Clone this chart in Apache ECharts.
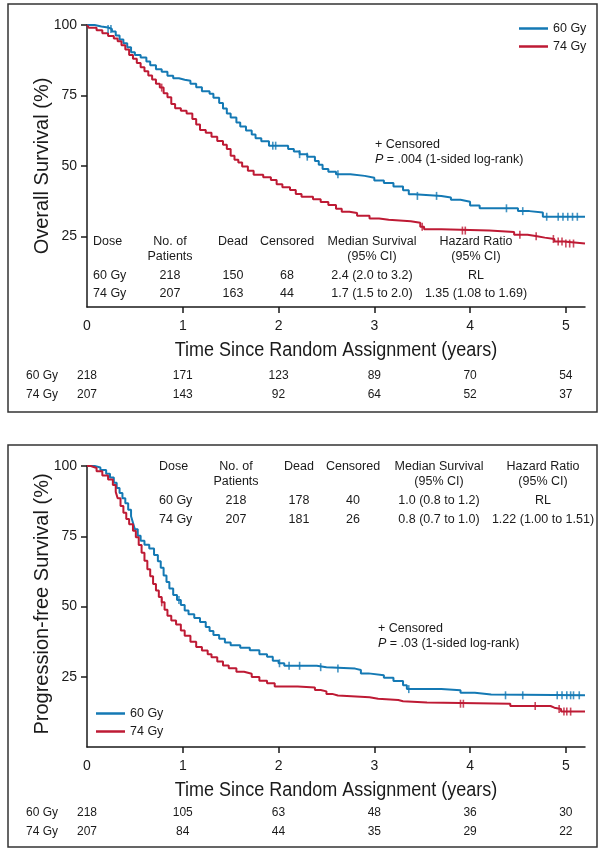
<!DOCTYPE html>
<html><head><meta charset="utf-8">
<script src="https://cdn.jsdelivr.net/npm/echarts@6/dist/echarts.min.js"></script>
<style>html,body{margin:0;padding:0;background:#fff}#c{width:605px;height:854px}</style>
</head><body><div id="c"></div>
<script>
// ---------- DATA ----------
const xTicks = [0, 1, 2, 3, 4, 5];
const yTicks = [25, 50, 75, 100];
const groups = ['60 Gy', '74 Gy'];

// Overall survival, 60 Gy (time in years, survival %)
const os60T = [0,0.08,0.15,0.22,0.26,0.3,0.34,0.38,0.42,0.46,0.5,0.56,0.62,0.66,0.72,0.78,0.84,0.9,0.96,1.02,1.08,1.14,1.2,1.28,1.32,1.38,1.42,1.46,1.5,1.56,1.6,1.66,1.72,1.76,1.82,1.9,2.1,2.16,2.22,2.3,2.38,2.42,2.46,2.52,2.6,2.75,2.9,3.0,3.1,3.2,3.3,3.36,3.42,3.7,3.8,3.9,4.0,4.1,4.5,4.62,4.76,5.2];
const os60S = [100,99.5,99.1,98.6,97.7,96.3,94.9,93.5,92.1,90.3,89.4,88.5,87.1,85.7,84.3,83.4,82.0,81.1,80.6,80.2,79.2,77.9,76.5,75.6,74.2,72.3,70.4,68.6,67.2,65.4,64.0,62.6,61.2,59.8,58.8,57.2,56.0,55.1,54.2,53.3,51.8,50.4,48.9,48.0,47.1,46.5,45.8,44.9,44.0,42.7,41.4,40.0,39.4,38.8,38.0,37.3,36.0,35.0,34.0,33.5,32.0,32.0];
// Overall survival, 74 Gy
const os74T = [0,0.02,0.1,0.16,0.22,0.28,0.32,0.36,0.4,0.44,0.48,0.52,0.56,0.6,0.64,0.68,0.72,0.76,0.8,0.84,0.88,0.92,0.98,1.04,1.1,1.14,1.18,1.24,1.3,1.36,1.42,1.46,1.5,1.54,1.58,1.62,1.68,1.74,1.84,1.92,1.98,2.04,2.12,2.18,2.24,2.36,2.44,2.52,2.6,2.66,2.74,2.82,2.95,3.05,3.15,3.38,3.48,3.52,3.7,4.2,4.46,4.6,4.7,4.78,4.88,4.98,5.2];
const os74S = [100,99.0,98.1,97.1,96.1,95.2,94.2,92.8,91.3,89.4,88.0,86.5,85.0,83.6,82.1,80.7,79.2,77.8,75.8,74.4,72.0,70.5,69.6,68.6,66.7,64.7,62.8,61.8,60.4,58.9,57.5,56.0,53.6,52.2,51.2,49.8,48.3,46.9,46.0,45.0,43.5,42.5,41.5,40.1,39.1,38.2,37.2,36.2,34.8,33.8,33.3,32.4,31.4,30.9,30.4,29.9,28.5,27.6,27.1,26.6,25.6,25.1,24.6,24.1,23.2,22.5,22.5];
const os60Cens = [0.22,0.25,1.94,1.97,2.22,2.3,2.62,3.45,3.65,4.38,4.55,4.8,4.92,4.97,5.02,5.07,5.12];
const os74Cens = [0.78,3.5,3.92,3.95,4.52,4.69,4.87,4.92,4.96,5.0,5.04,5.08];

// Progression-free survival, 60 Gy
const pfs60T = [0,0.08,0.14,0.2,0.24,0.28,0.31,0.34,0.37,0.4,0.43,0.46,0.48,0.5,0.53,0.56,0.6,0.65,0.7,0.74,0.77,0.8,0.83,0.86,0.9,0.94,0.98,1.02,1.06,1.12,1.18,1.24,1.28,1.32,1.38,1.44,1.5,1.6,1.7,1.8,1.88,1.94,2.0,2.06,2.4,2.5,2.8,2.86,2.94,3.1,3.2,3.3,3.34,3.7,3.9,4.05,4.22,5.2];
const pfs60S = [100,99.5,98.6,97.2,95.9,94.0,92.2,90.4,88.5,86.7,84.4,82.1,79.8,77.5,75.2,73.4,72.0,70.6,68.3,66.1,63.8,61.0,58.7,56.4,54.1,52.3,50.5,48.6,47.2,45.9,44.5,42.7,41.3,39.9,38.5,37.2,36.2,35.3,34.4,33.0,32.1,30.7,29.8,28.9,28.4,27.9,27.4,26.2,25.5,24.6,23.5,22.0,20.6,20.2,19.3,18.7,18.4,18.4];
// Progression-free survival, 74 Gy
const pfs74T = [0,0.04,0.1,0.16,0.22,0.27,0.3,0.32,0.35,0.38,0.41,0.44,0.48,0.51,0.54,0.57,0.6,0.63,0.66,0.69,0.72,0.75,0.78,0.81,0.84,0.88,0.93,0.98,1.02,1.08,1.14,1.2,1.26,1.3,1.36,1.42,1.48,1.56,1.64,1.72,1.8,1.88,1.96,2.2,2.38,2.44,2.5,2.56,2.62,2.95,3.04,3.25,3.3,3.55,4.42,4.84,4.88,4.95,5.2];
const pfs74S = [100,99.3,98.1,96.6,95.2,93.2,90.8,88.5,85.8,83.4,81.1,79.3,77.0,74.6,71.9,69.1,66.3,63.3,60.8,58.0,55.7,53.4,51.5,48.8,46.7,45.0,43.6,41.5,39.6,37.5,35.6,34.3,33.0,31.9,30.4,29.0,28.0,26.8,26.1,24.9,23.6,22.7,21.5,21.2,20.3,19.8,18.9,18.3,17.7,17.2,16.7,16.3,15.8,15.4,14.6,14.0,13.5,12.6,12.6];
const pfs60Cens = [0.96,2.01,2.11,2.22,2.44,2.62,3.36,4.37,4.55,4.91,4.96,5.01,5.05,5.08,5.14];
const pfs74Cens = [0.78,3.9,3.93,4.68,4.93,4.98,5.01,5.05];

// Numbers at risk
const osRisk60 = [218,171,123,89,70,54];
const osRisk74 = [207,143,92,64,52,37];
const pfsRisk60 = [218,105,63,48,36,30];
const pfsRisk74 = [207,84,44,35,29,22];

// Summary tables
const tableHead1 = ['Dose','No. of','Dead','Censored','Median Survival','Hazard Ratio'];
const tableHead2 = ['','Patients','','','(95% CI)','(95% CI)'];
const osRow60 = ['60 Gy','218','150','68','2.4 (2.0 to 3.2)','RL'];
const osRow74 = ['74 Gy','207','163','44','1.7 (1.5 to 2.0)','1.35 (1.08 to 1.69)'];
const pfsRow60 = ['60 Gy','218','178','40','1.0 (0.8 to 1.2)','RL'];
const pfsRow74 = ['74 Gy','207','181','26','0.8 (0.7 to 1.0)','1.22 (1.00 to 1.51)'];

const osPval = '.004 (1-sided log-rank)';
const pfsPval = '.03 (1-sided log-rank)';
const xTitle = 'Time Since Random Assignment (years)';
const osTitle = 'Overall Survival (%)';
const pfsTitle = 'Progression-free Survival (%)';

// ---------- STYLE ----------
const BLUE = '#1479b4', RED = '#be1a34', INK = '#1a1a1a';
const FF = '"Liberation Sans", Arial, Helvetica, sans-serif';
const f = (s) => s + 'px ' + FF;

function pairs(T, S) { return T.map((t, i) => [t, S[i]]); }
function survAt(T, S, t) { let v = S[0]; for (let i = 0; i < T.length; i++) { if (T[i] <= t) v = S[i]; } return v; }
function cens(T, S, C) { return C.map(t => [t, survAt(T, S, t)]); }

const chart = echarts.init(document.getElementById('c'), null, { renderer: 'canvas' });

function xAx(gi) {
  return {
    type: 'value', gridIndex: gi, min: 0, max: 5.2,
    axisLine: { show: true, onZero: false, lineStyle: { color: INK, width: 1.5 } },
    axisTick: { show: true, length: 6, lineStyle: { color: INK, width: 1.5 }, customValues: xTicks.slice(1) },
    axisLabel: { customValues: xTicks, color: INK, fontFamily: FF, fontSize: 14, margin: 12 },
    splitLine: { show: false }
  };
}
function yAx(gi) {
  return {
    type: 'value', gridIndex: gi, min: 0, max: 100, interval: 25,
    axisLine: { show: true, onZero: false, lineStyle: { color: INK, width: 1.5 } },
    axisTick: { show: true, length: 6, lineStyle: { color: INK, width: 1.5 }, customValues: yTicks },
    axisLabel: { customValues: yTicks, color: INK, fontFamily: FF, fontSize: 14, margin: 10 },
    splitLine: { show: false }
  };
}
function lineS(name, data, color, gi) {
  return { name, type: 'line', step: 'end', xAxisIndex: gi, yAxisIndex: gi, data, showSymbol: false,
    lineStyle: { color, width: 2 }, itemStyle: { color }, animation: false, z: 3 };
}
function censS(name, data, color, gi) {
  return { name, type: 'scatter', xAxisIndex: gi, yAxisIndex: gi, data, symbol: 'rect', symbolSize: [1.6, 8],
    itemStyle: { color }, animation: false, z: 4 };
}

const legendText = { fontFamily: FF, fontSize: 12.5, color: INK };
const option = {
  animation: false,
  grid: [
    { left: 87, top: 25, width: 498, height: 282 },
    { left: 87, top: 466, width: 498, height: 281 }
  ],
  xAxis: [xAx(0), xAx(1)],
  yAxis: [yAx(0), yAx(1)],
  legend: [
    { data: groups, orient: 'vertical', left: 514, top: 17, itemWidth: 29, itemHeight: 2.5, itemGap: 5, icon: 'rect',
      textStyle: legendText, selectedMode: false },
    { data: groups, orient: 'vertical', left: 91, top: 702, itemWidth: 29, itemHeight: 2.5, itemGap: 5, icon: 'rect',
      textStyle: legendText, selectedMode: false }
  ],
  series: [
    lineS(groups[0], pairs(os60T, os60S), BLUE, 0),
    lineS(groups[1], pairs(os74T, os74S), RED, 0),
    censS(groups[0], cens(os60T, os60S, os60Cens), BLUE, 0),
    censS(groups[1], cens(os74T, os74S, os74Cens), RED, 0),
    lineS(groups[0], pairs(pfs60T, pfs60S), BLUE, 1),
    lineS(groups[1], pairs(pfs74T, pfs74S), RED, 1),
    censS(groups[0], cens(pfs60T, pfs60S, pfs60Cens), BLUE, 1),
    censS(groups[1], cens(pfs74T, pfs74S, pfs74Cens), RED, 1)
  ]
};
chart.setOption(option);

// ---------- GRAPHICS (text annotations, tables, frames) ----------
const g = [];
function txt(x, y, text, size, align, extra) {
  g.push(Object.assign({ type: 'text', x, y, silent: true,
    style: { text, font: f(size), fill: INK, align: align || 'center', verticalAlign: 'middle' } }, extra || {}));
}
g.push({ type: 'rect', shape: { x: 8, y: 4, width: 589, height: 408 }, style: { fill: 'none', stroke: '#333', lineWidth: 1.5 }, silent: true });
g.push({ type: 'rect', shape: { x: 8, y: 445, width: 589, height: 402 }, style: { fill: 'none', stroke: '#333', lineWidth: 1.5 }, silent: true });

// y titles
txt(42, 166, osTitle, 20, 'center', { rotation: Math.PI / 2 });
txt(42, 604, pfsTitle, 20, 'center', { rotation: Math.PI / 2 });
// x titles
txt(336, 350, xTitle, 20, 'center', { scaleX: 0.9 });
txt(336, 790, xTitle, 20, 'center', { scaleX: 0.9 });

// tables
function table(colX, colAlign, yH1, yH2, yR1, yR2, r1, r2) {
  for (let i = 0; i < tableHead1.length; i++) {
    txt(colX[i], yH1, tableHead1[i], 12.5, colAlign[i]);
    if (tableHead2[i]) txt(colX[i], yH2, tableHead2[i], 12.5, colAlign[i]);
    txt(colX[i], yR1, r1[i], 12.5, colAlign[i]);
    txt(colX[i], yR2, r2[i], 12.5, colAlign[i]);
  }
}
const al = ['left','center','center','center','center','center'];
table([93, 170, 233, 287, 372, 476], al, 241.5, 256.5, 275.5, 294, osRow60, osRow74);
table([159, 236, 299, 353, 439, 543], al, 466.5, 481.5, 501, 520, pfsRow60, pfsRow74);

// censored note + p-values
function note(x, y, p) {
  txt(x, y, '+ Censored', 12.5, 'left');
  g.push({ type: 'text', x, y: y + 15, silent: true,
    style: { text: '{i|P} = ' + p, fontSize: 12.5, fontFamily: FF, fill: INK, align: 'left', verticalAlign: 'middle',
      rich: { i: { fontStyle: 'italic', fontSize: 12.5, fontFamily: FF, fill: INK } } } });
}
note(375, 145, osPval);
note(378, 629, pfsPval);

// numbers at risk
function risk(gi, y1, y2, a, b) {
  txt(26, y1, groups[0], 12, 'left');
  txt(26, y2, groups[1], 12, 'left');
  xTicks.forEach((t, i) => {
    const px = chart.convertToPixel({ xAxisIndex: gi }, t);
    txt(px, y1, String(a[i]), 12);
    txt(px, y2, String(b[i]), 12);
  });
}
risk(0, 376, 395, osRisk60, osRisk74);
risk(1, 813, 832, pfsRisk60, pfsRisk74);

chart.setOption({ graphic: { elements: g } });
</script>
</body></html>
